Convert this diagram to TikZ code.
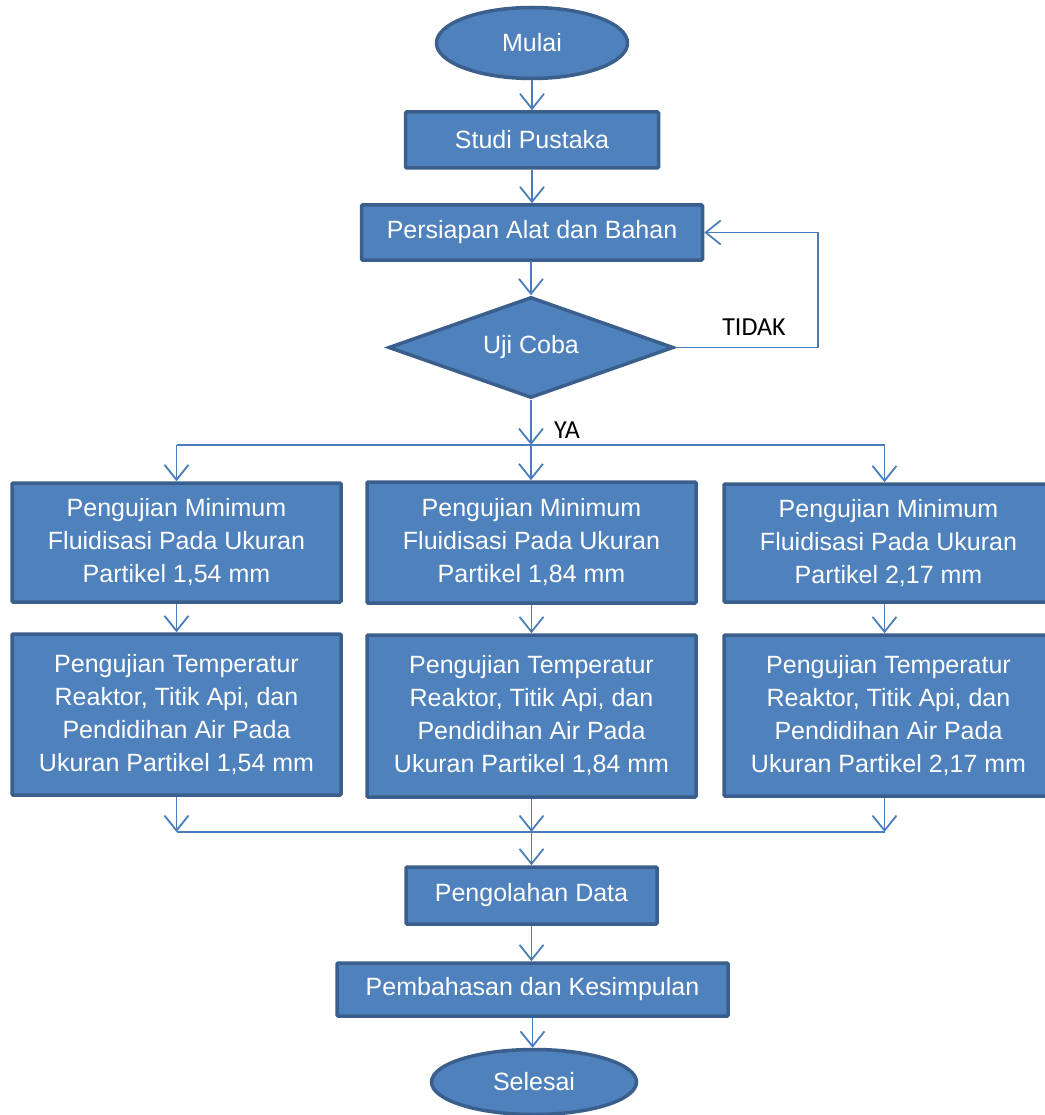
\documentclass[tikz,border=0pt]{standalone}
\usepackage{fontspec}
\setmainfont{Liberation Sans}
\newfontfamily\labfont{Carlito}
\usetikzlibrary{shapes.geometric,arrows.meta}
\definecolor{boxfill}{HTML}{4F81BD}
\definecolor{boxborder}{HTML}{3A5F8C}
\definecolor{lineblue}{HTML}{4A7EBB}
\begin{document}
\begin{tikzpicture}[x=1pt,y=-1pt,
  shp/.style={draw=boxborder, fill=boxfill, line width=3.5pt, text=white, align=center,
    font=\fontsize{25}{33}\selectfont, inner sep=0pt},
  box/.style={shp, rectangle, rounded corners=1pt},
  term/.style={shp, ellipse},
  dec/.style={shp, diamond, aspect=2.8},
  conn/.style={draw=lineblue, line width=1.8pt},
  arr/.style={conn, -{Straight Barb[length=15pt,width=24pt]}},
  lab/.style={font=\labfont\fontsize{26}{30}\selectfont, text=black, inner sep=0pt}]
\useasboundingbox (0,0) rectangle (1044,1115);
\node[term, minimum width=191pt, minimum height=71pt] (mulai) at (532,43) {Mulai};
\node[box, minimum width=253pt, minimum height=56pt] (studi) at (532,140) {Studi Pustaka};
\node[box, minimum width=341pt, minimum height=55pt] (persiapan) at (532,232.5) {Persiapan Alat dan Bahan};
\node[dec, minimum width=285pt, minimum height=101pt] (uji) at (531,347.5) {Uji Coba};
\node[lab] (tidak) at (754,327) {TIDAK};
\node[lab] (ya) at (567,430) {YA};

\node[box, minimum width=329pt, minimum height=119pt] (a1) at (176.5,542.5) {Pengujian Minimum\\Fluidisasi Pada Ukuran\\Partikel 1,54 mm};
\node[box, minimum width=329pt, minimum height=121pt] (b1) at (531.5,542.5) {Pengujian Minimum\\Fluidisasi Pada Ukuran\\Partikel 1,84 mm};
\node[box, minimum width=329pt, minimum height=118pt] (c1) at (888.5,543) {Pengujian Minimum\\Fluidisasi Pada Ukuran\\Partikel 2,17 mm};

\node[box, minimum width=329pt, minimum height=161pt] (a2) at (176.5,714.5) {Pengujian Temperatur\\Reaktor, Titik Api, dan\\Pendidihan Air Pada\\Ukuran Partikel 1,54 mm};
\node[box, minimum width=329pt, minimum height=162pt] (b2) at (531.5,716) {Pengujian Temperatur\\Reaktor, Titik Api, dan\\Pendidihan Air Pada\\Ukuran Partikel 1,84 mm};
\node[box, minimum width=329pt, minimum height=161pt] (c2) at (888.5,715.5) {Pengujian Temperatur\\Reaktor, Titik Api, dan\\Pendidihan Air Pada\\Ukuran Partikel 2,17 mm};

\node[box, minimum width=251pt, minimum height=57pt] (olah) at (531.5,895.5) {Pengolahan Data};
\node[box, minimum width=391pt, minimum height=53pt] (bahas) at (532.5,989.5) {Pembahasan dan Kesimpulan};
\node[term, minimum width=205pt, minimum height=65pt] (selesai) at (534,1082) {Selesai};

% top chain
\draw[arr] (mulai) -- (studi);
\draw[arr] (studi) -- (persiapan);
\draw[arr] (persiapan.south) -- (persiapan.south -| uji.north) -- (uji.north);
% TIDAK loop
\coordinate (tr) at (818,347.5);
\draw[arr] (uji.east) -- (tr) |- (persiapan.east);
% YA split
\coordinate (sp) at (531,445);
\coordinate (sl) at (a1.north |- sp);
\coordinate (sr) at ([xshift=-4pt]c1.north |- sp);
\draw[arr] (uji.south) -- (sp);
\draw[conn] (sl) -- (sr);
\draw[arr] (sl) -- (a1.north);
\draw[arr] (sp) -- (sp |- b1.north);
\draw[arr] (sr) -- (sr |- c1.north);
% row 1 -> row 2
\draw[arr] (a1) -- (a2);
\draw[arr] (b1.south) -- (b1.south |- b2.north);
\draw[arr] ([xshift=-4pt]c1.south) -- ([xshift=-4pt]c2.north);
% merge
\coordinate (jm) at (531.5,832);
\coordinate (jl) at (a2.south |- jm);
\coordinate (jr) at ([xshift=-4pt]c2.south |- jm);
\draw[conn] (jl) -- (jr);
\draw[arr] (a2.south) -- (jl);
\draw[arr] (b2.south) -- (jm);
\draw[arr] ([xshift=-4pt]c2.south) -- (jr);
\draw[arr] (jm) -- (olah);
% bottom chain
\draw[arr] (olah.south) -- (olah.south |- bahas.north);
\draw[arr] (bahas.south) -- (bahas.south |- selesai.north);
\end{tikzpicture}
\end{document}
